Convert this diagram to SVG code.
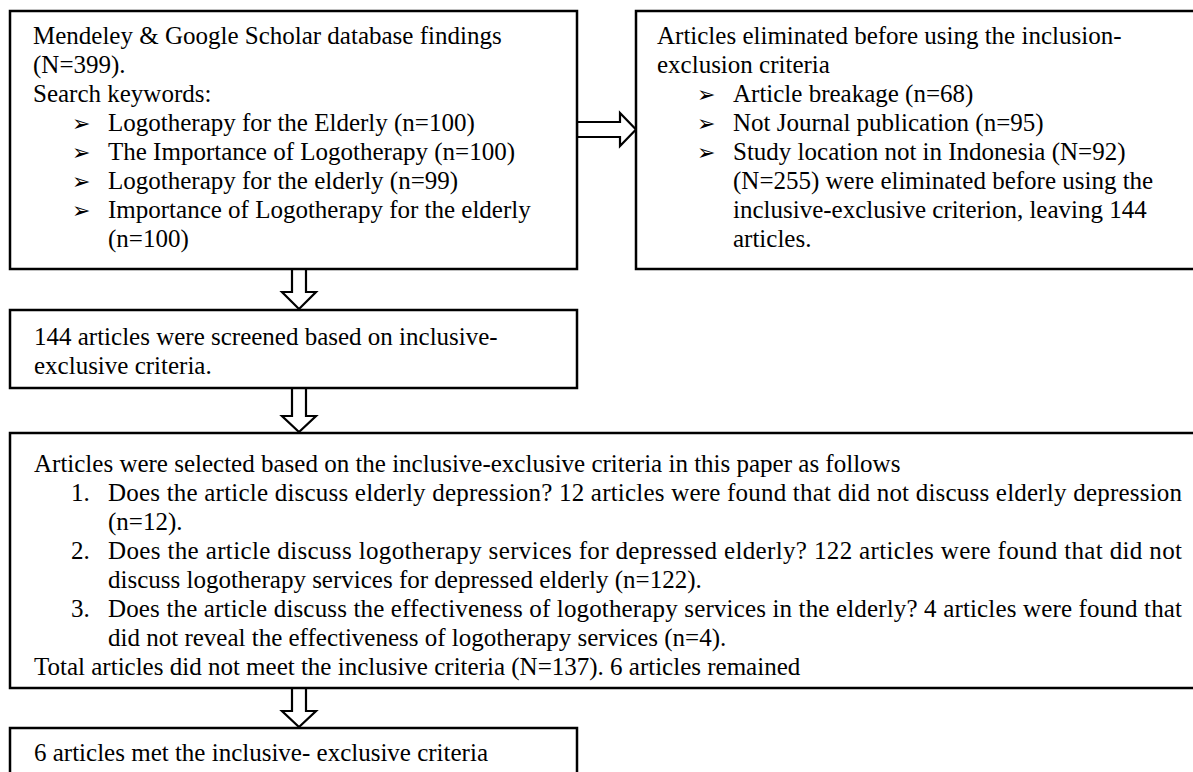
<svg xmlns="http://www.w3.org/2000/svg" width="1193" height="772" viewBox="0 0 1193 772">
<style>
.box{fill:#fff;stroke:#000;stroke-width:2.5}
.arr{fill:#fff;stroke:#000;stroke-width:2.2;stroke-linejoin:miter}
text{font-family:"Liberation Serif","Times New Roman",serif;font-size:25px;fill:#000}
.b{font-family:"DejaVu Sans",sans-serif;font-size:22px}
</style>
<rect width="1193" height="772" fill="#fff"/>
<g id="connectors">
<polygon class="arr" points="577,122 620,122 620,113 636,129.5 620,146 620,137 577,137"/>
<polygon class="arr" points="292,269 292,292 282,292 299,309 316,292 306,292 306,269"/>
<polygon class="arr" points="292,388 292,416 282,416 299,432 316,416 306,416 306,388"/>
<polygon class="arr" points="292,688 292,711 282,711 299,727 316,711 306,711 306,688"/>
</g>
<g id="n1">
<rect class="box" x="10" y="11" width="567" height="258"/>
<text x="33" y="44">Mendeley &amp; Google Scholar database findings</text>
<text x="33" y="73">(N=399).</text>
<text x="33" y="102">Search keywords:</text>
<text class="b" x="72" y="131">➢</text><text x="108" y="131">Logotherapy for the Elderly (n=100)</text>
<text class="b" x="72" y="160">➢</text><text x="108" y="160">The Importance of Logotherapy (n=100)</text>
<text class="b" x="72" y="189">➢</text><text x="108" y="189">Logotherapy for the elderly (n=99)</text>
<text class="b" x="72" y="218">➢</text><text x="108" y="218">Importance of Logotherapy for the elderly</text>
<text x="108" y="247">(n=100)</text>
</g>
<g id="n2">
<rect class="box" x="636" y="11" width="570" height="258"/>
<text x="657" y="44">Articles eliminated before using the inclusion-</text>
<text x="657" y="73">exclusion criteria</text>
<text class="b" x="697" y="102">➢</text><text x="733" y="102">Article breakage (n=68)</text>
<text class="b" x="697" y="131">➢</text><text x="733" y="131">Not Journal publication (n=95)</text>
<text class="b" x="697" y="160">➢</text><text x="733" y="160">Study location not in Indonesia (N=92)</text>
<text x="733" y="189">(N=255) were eliminated before using the</text>
<text x="733" y="218">inclusive-exclusive criterion, leaving 144</text>
<text x="733" y="247">articles.</text>
</g>
<g id="n3">
<rect class="box" x="10" y="310" width="567" height="78"/>
<text x="34" y="345">144 articles were screened based on inclusive-</text>
<text x="34" y="374">exclusive criteria.</text>
</g>
<g id="n4">
<rect class="box" x="10" y="433" width="1196" height="255"/>
<text x="34" y="472">Articles were selected based on the inclusive-exclusive criteria in this paper as follows</text>
<text x="71" y="501">1.</text><text x="108" y="501" textLength="1074" lengthAdjust="spacing">Does the article discuss elderly depression? 12 articles were found that did not discuss elderly depression</text>
<text x="108" y="530">(n=12).</text>
<text x="71" y="559">2.</text><text x="108" y="559" textLength="1074" lengthAdjust="spacing">Does the article discuss logotherapy services for depressed elderly? 122 articles were found that did not</text>
<text x="108" y="588">discuss logotherapy services for depressed elderly (n=122).</text>
<text x="71" y="617">3.</text><text x="108" y="617" textLength="1074" lengthAdjust="spacing">Does the article discuss the effectiveness of logotherapy services in the elderly? 4 articles were found that</text>
<text x="108" y="646">did not reveal the effectiveness of logotherapy services (n=4).</text>
<text x="34" y="675">Total articles did not meet the inclusive criteria (N=137). 6 articles remained</text>
</g>
<g id="n5">
<rect class="box" x="10" y="728" width="567" height="60"/>
<text x="34" y="761">6 articles met the inclusive- exclusive criteria</text>
</g>
</svg>
